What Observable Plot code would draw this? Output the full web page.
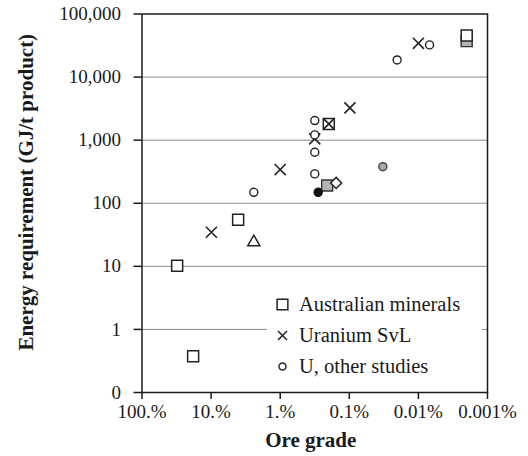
<!DOCTYPE html>
<html><head><meta charset="utf-8">
<script src="https://cdn.jsdelivr.net/npm/d3@7"></script>
<script src="https://cdn.jsdelivr.net/npm/@observablehq/plot@0.6"></script>
<style>body{margin:0;background:#fff}#chart{width:528px;height:456px}</style>
</head><body><div id="chart"></div>
<script>
// Axis ticks
const xTicks = [100, 10, 1, 0.1, 0.01, 0.001];
const xTickLabels = ["100.%", "10.%", "1.%", "0.1%", "0.01%", "0.001%"];
const yTicks = [0.1, 1, 10, 100, 1000, 10000, 100000];
const yTickLabels = ["0", "1", "10", "100", "1,000", "10,000", "100,000"];

// Australian minerals (open squares)
const ausGrade = [31, 4.06, 18.2, 0.198, 0.002];
const ausEnergy = [10.2, 54.6, 0.376, 1811, 45500];
// Australian minerals, grey-filled squares
const ausGreyGrade = [0.002, 0.209];
const ausGreyEnergy = [37200, 191];
// Uranium SvL (crosses)
const svlGrade = [9.9, 1.0, 0.316, 0.198, 0.098, 0.01];
const svlEnergy = [34.7, 342, 1048, 1811, 3250, 34300];
// U, other studies (circles)
const otherGrade = [2.41, 0.316, 0.316, 0.316, 0.316, 0.0203, 0.0069];
const otherEnergy = [149, 292, 643, 1213, 2046, 18700, 32400];
// single special markers
const greyCircleGrade = [0.0327], greyCircleEnergy = [380];
const blackDotGrade = [0.282], blackDotEnergy = [149];
const triangleGrade = [2.41], triangleEnergy = [24.1];
const diamondGrade = [0.155], diamondEnergy = [210];

const legendLabels = ["Australian minerals", "Uranium SvL", "U, other studies"];

const pts = (gs, es) => gs.map((g, i) => ({grade: g, energy: es[i]}));
const FONT = "'Liberation Serif', 'Times New Roman', serif";
const INK = "#1a1a1a";

const chart = Plot.plot({
  width: 528, height: 456,
  marginLeft: 141.5, marginRight: 41, marginTop: 13.5, marginBottom: 64,
  style: {fontFamily: FONT, fontSize: "19px", color: INK, background: "#fff"},
  x: {type: "log", domain: [100, 0.001]},
  y: {type: "log", domain: [0.1, 100000]},
  marks: [
    Plot.ruleY(yTicks.slice(1, -1), {stroke: "#8a8a8a", strokeWidth: 1}),
    Plot.axisY({ticks: yTicks, tickFormat: (d) => yTickLabels[yTicks.indexOf(d)], tickSize: 8, tickPadding: 13, strokeWidth: 1.5, stroke: INK, fill: INK, label: null}),
    Plot.axisX({ticks: xTicks, tickFormat: (d) => xTickLabels[xTicks.indexOf(d)], tickSize: 7, tickPadding: 5, strokeWidth: 1.5, stroke: INK, fill: INK, label: null}),
    Plot.frame({stroke: INK, strokeWidth: 1.5}),
    Plot.dot(pts(ausGreyGrade, ausGreyEnergy), {x: "grade", y: "energy", symbol: "square", r: 6.2, fill: "#b4b4b4", stroke: "#333", strokeWidth: 1.4}),
    Plot.dot(pts(ausGrade, ausEnergy), {x: "grade", y: "energy", symbol: "square", r: 6.2, fill: "white", stroke: "#222", strokeWidth: 1.5}),
    Plot.dot(pts(svlGrade, svlEnergy), {x: "grade", y: "energy", symbol: "times", r: 5.1, stroke: "#222", strokeWidth: 1.6}),
    Plot.dot(pts(otherGrade, otherEnergy), {x: "grade", y: "energy", symbol: "circle", r: 4, fill: "white", stroke: "#222", strokeWidth: 1.4}),
    Plot.dot(pts(greyCircleGrade, greyCircleEnergy), {x: "grade", y: "energy", symbol: "circle", r: 4, fill: "#a8a8a8", stroke: "#444", strokeWidth: 1.4}),
    Plot.dot(pts(triangleGrade, triangleEnergy), {x: "grade", y: "energy", symbol: "triangle", r: 4.5, fill: "white", stroke: "#222", strokeWidth: 1.5}),
    Plot.dot(pts(diamondGrade, diamondEnergy), {x: "grade", y: "energy", symbol: "diamond2", r: 5, fill: "white", stroke: "#222", strokeWidth: 1.5}),
    Plot.dot(pts(blackDotGrade, blackDotEnergy), {x: "grade", y: "energy", symbol: "circle", r: 4, fill: "#111", stroke: "#111"}),
    Plot.text(["Ore grade"], {text: (d) => d, frameAnchor: "bottom", textAnchor: "middle", dx: -4, dy: 54, fontWeight: "bold", fontSize: 21, fill: INK}),
    Plot.text(["Energy requirement (GJ/t product)"], {text: (d) => d, frameAnchor: "left", textAnchor: "middle", lineAnchor: "middle", rotate: -90, dx: -116, dy: -11, fontWeight: "bold", fontSize: 21, fill: INK})
  ]
});
document.getElementById("chart").appendChild(chart);

// Legend inside the plot, lower right
const svg = d3.select(chart);
const lg = svg.append("g").attr("font-family", FONT).attr("font-size", 20.5).attr("text-anchor", "start");
lg.append("rect").attr("x", 267).attr("y", 285).attr("width", 215).attr("height", 100).attr("fill", "white");
const legendSymbols = [
  {type: d3.symbolSquare, size: 115, sw: 1.5},
  {type: d3.symbolTimes, size: 55, sw: 1.5},
  {type: d3.symbolCircle, size: 40, sw: 1.4}
];
legendLabels.forEach((label, i) => {
  const cy = 304.5 + i * 31;
  const s = legendSymbols[i];
  lg.append("path").attr("transform", `translate(282.5,${cy})`)
    .attr("d", d3.symbol().type(s.type).size(s.size)())
    .attr("fill", "none").attr("stroke", "#222").attr("stroke-width", s.sw);
  lg.append("text").attr("x", 299).attr("y", cy + 6.5).attr("text-anchor", "start").attr("fill", INK).text(label);
});
</script>
</body></html>
